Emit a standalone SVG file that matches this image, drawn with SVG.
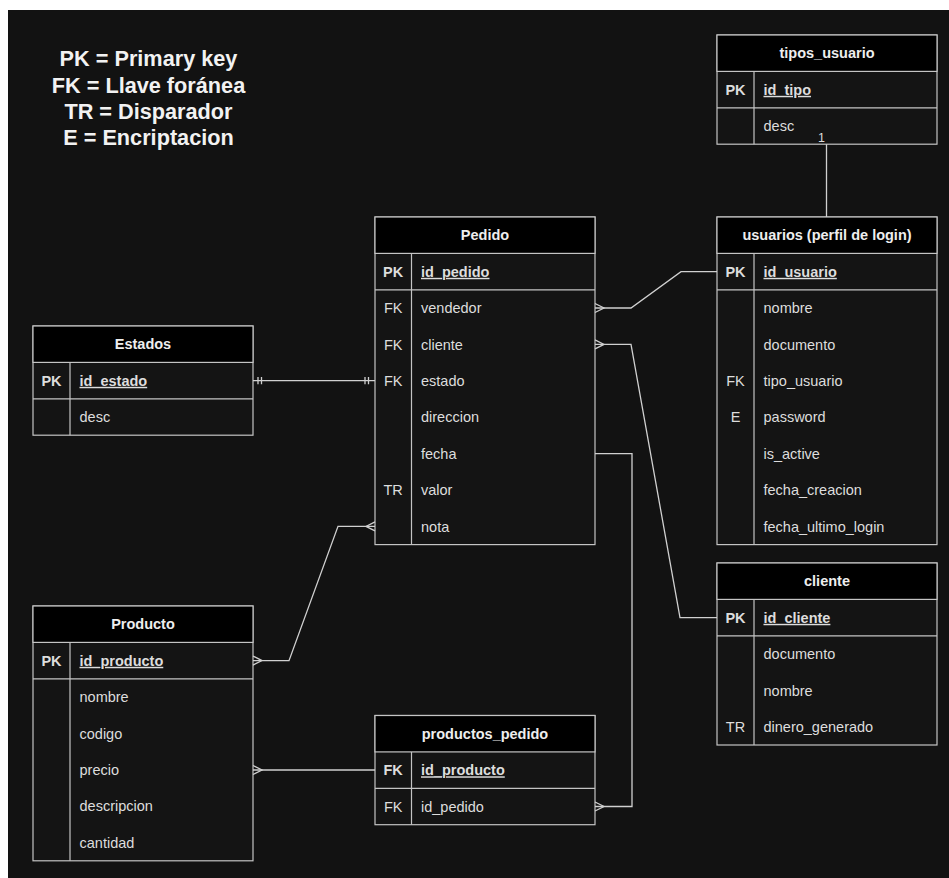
<svg xmlns="http://www.w3.org/2000/svg" width="949" height="878" viewBox="0 0 949 878">
<style>
.bd{fill:#141414;stroke:#c4c4c4;stroke-width:1.2}
.hd{fill:#000;stroke:#c4c4c4;stroke-width:1.2}
.ln{stroke:#c4c4c4;stroke-width:1.2;fill:none}
.ttl{font-family:"Liberation Sans",Arial,sans-serif;font-size:14.5px;font-weight:bold;fill:#eeeeee;text-anchor:middle}
.k{font-family:"Liberation Sans",Arial,sans-serif;font-size:14.5px;fill:#dddddd;text-anchor:middle}
.kb{font-family:"Liberation Sans",Arial,sans-serif;font-size:14.5px;font-weight:bold;fill:#dddddd;text-anchor:middle}
.f{font-family:"Liberation Sans",Arial,sans-serif;font-size:14.5px;fill:#dddddd}
.fb{font-family:"Liberation Sans",Arial,sans-serif;font-size:14.5px;font-weight:bold;fill:#dddddd;text-decoration:underline}
.lg{font-family:"Liberation Sans",Arial,sans-serif;font-size:21.7px;font-weight:bold;fill:#f2f2f2;text-anchor:middle}
.c{stroke:#d0d0d0;stroke-width:1.3;fill:none}
.lbl{font-family:"Liberation Sans",Arial,sans-serif;font-size:12.5px;fill:#dddddd;text-anchor:middle}
</style>
<rect x="0" y="0" width="949" height="878" fill="#ffffff"/>
<rect x="8" y="10" width="941" height="868" fill="#121212"/>

<g id="legend">
<text class="lg" x="148.5" y="66">PK = Primary key</text>
<text class="lg" x="148.5" y="92.5">FK = Llave foránea</text>
<text class="lg" x="148.5" y="119">TR = Disparador</text>
<text class="lg" x="148.5" y="145">E = Encriptacion</text>
</g>

<g id="tipos_usuario">
<rect class="bd" x="717" y="35" width="220" height="109.2"/>
<rect class="hd" x="717" y="35" width="220" height="36.4"/>
<path class="ln" d="M717,107.8 H937 M754,71.4 V144.2"/>
<text class="ttl" x="827" y="58.4">tipos_usuario</text>
<text class="kb" x="735.5" y="94.8">PK</text>
<text class="fb" x="763.5" y="94.8">id_tipo</text>
<text class="f" x="763.5" y="131.2">desc</text>
</g>

<g id="usuarios">
<rect class="bd" x="717" y="217" width="220" height="327.6"/>
<rect class="hd" x="717" y="217" width="220" height="36.4"/>
<path class="ln" d="M717,289.8 H937 M754,253.4 V544.6"/>
<text class="ttl" x="827" y="240.4">usuarios (perfil de login)</text>
<text class="kb" x="735.5" y="276.8">PK</text>
<text class="fb" x="763.5" y="276.8">id_usuario</text>
<text class="f" x="763.5" y="313.2">nombre</text>
<text class="f" x="763.5" y="349.6">documento</text>
<text class="k" x="735.5" y="386">FK</text>
<text class="f" x="763.5" y="386">tipo_usuario</text>
<text class="k" x="735.5" y="422.4">E</text>
<text class="f" x="763.5" y="422.4">password</text>
<text class="f" x="763.5" y="458.8">is_active</text>
<text class="f" x="763.5" y="495.2">fecha_creacion</text>
<text class="f" x="763.5" y="531.6">fecha_ultimo_login</text>
</g>

<g id="pedido">
<rect class="bd" x="375" y="217" width="220" height="327.6"/>
<rect class="hd" x="375" y="217" width="220" height="36.4"/>
<path class="ln" d="M375,289.8 H595 M411.5,253.4 V544.6"/>
<text class="ttl" x="485" y="240.4">Pedido</text>
<text class="kb" x="393.2" y="276.8">PK</text>
<text class="fb" x="421" y="276.8">id_pedido</text>
<text class="k" x="393.2" y="313.2">FK</text>
<text class="f" x="421" y="313.2">vendedor</text>
<text class="k" x="393.2" y="349.6">FK</text>
<text class="f" x="421" y="349.6">cliente</text>
<text class="k" x="393.2" y="386">FK</text>
<text class="f" x="421" y="386">estado</text>
<text class="f" x="421" y="422.4">direccion</text>
<text class="f" x="421" y="458.8">fecha</text>
<text class="k" x="393.2" y="495.2">TR</text>
<text class="f" x="421" y="495.2">valor</text>
<text class="f" x="421" y="531.6">nota</text>
</g>

<g id="estados">
<rect class="bd" x="33" y="326" width="220" height="109.2"/>
<rect class="hd" x="33" y="326" width="220" height="36.4"/>
<path class="ln" d="M33,398.8 H253 M70,362.4 V435.2"/>
<text class="ttl" x="143" y="349.4">Estados</text>
<text class="kb" x="51.5" y="385.8">PK</text>
<text class="fb" x="79.5" y="385.8">id_estado</text>
<text class="f" x="79.5" y="422.2">desc</text>
</g>

<g id="producto">
<rect class="bd" x="33" y="606" width="220" height="254.8"/>
<rect class="hd" x="33" y="606" width="220" height="36.4"/>
<path class="ln" d="M33,678.8 H253 M70,642.4 V860.8"/>
<text class="ttl" x="143" y="629.4">Producto</text>
<text class="kb" x="51.5" y="665.8">PK</text>
<text class="fb" x="79.5" y="665.8">id_producto</text>
<text class="f" x="79.5" y="702.2">nombre</text>
<text class="f" x="79.5" y="738.6">codigo</text>
<text class="f" x="79.5" y="775">precio</text>
<text class="f" x="79.5" y="811.4">descripcion</text>
<text class="f" x="79.5" y="847.8">cantidad</text>
</g>

<g id="productos_pedido">
<rect class="bd" x="375" y="715.5" width="220" height="109.2"/>
<rect class="hd" x="375" y="715.5" width="220" height="36.4"/>
<path class="ln" d="M375,788.3 H595 M411.5,751.9 V824.7"/>
<text class="ttl" x="485" y="738.9">productos_pedido</text>
<text class="kb" x="393.2" y="775.3">FK</text>
<text class="fb" x="421" y="775.3">id_producto</text>
<text class="k" x="393.2" y="811.7">FK</text>
<text class="f" x="421" y="811.7">id_pedido</text>
</g>

<g id="cliente">
<rect class="bd" x="717" y="563" width="220" height="182"/>
<rect class="hd" x="717" y="563" width="220" height="36.4"/>
<path class="ln" d="M717,635.8 H937 M754,599.4 V745"/>
<text class="ttl" x="827" y="586.4">cliente</text>
<text class="kb" x="735.5" y="622.8">PK</text>
<text class="fb" x="763.5" y="622.8">id_cliente</text>
<text class="f" x="763.5" y="659.2">documento</text>
<text class="f" x="763.5" y="695.6">nombre</text>
<text class="k" x="735.5" y="732">TR</text>
<text class="f" x="763.5" y="732">dinero_generado</text>
</g>

<g id="connectors">
<!-- tipos_usuario -> usuarios -->
<path class="c" d="M826.5,144.2 V217"/>
<text class="lbl" x="821.5" y="142">1</text>
<!-- Estados -> Pedido estado -->
<path class="c" d="M253,380.6 H375"/>
<path class="c" d="M258,377 V384.2 M261.5,377 V384.2 M365,377 V384.2 M368.5,377 V384.2"/>
<!-- Pedido vendedor -> usuarios -->
<path class="c" d="M595,308 H631 L681,271.6 H717"/>
<path class="c" d="M595,303.5 L604,308 L595,312.5"/>
<!-- Pedido cliente -> cliente -->
<path class="c" d="M595,344.4 H631 L680,617.6 H717"/>
<path class="c" d="M595,339.9 L604,344.4 L595,348.9"/>
<!-- Pedido fecha -> productos_pedido id_pedido -->
<path class="c" d="M595,453.6 H632 V806.5 H595"/>
<path class="c" d="M595,802 L604,806.5 L595,811"/>
<!-- Pedido nota -> Producto id_producto -->
<path class="c" d="M375,526.4 H338 L289,660.6 H253"/>
<path class="c" d="M375,521.9 L366,526.4 L375,530.9"/>
<path class="c" d="M253,656.1 L262,660.6 L253,665.1"/>
<!-- Producto precio -> productos_pedido id_producto -->
<path class="c" d="M253,770 H375"/>
<path class="c" d="M253,765.5 L262,770 L253,774.5"/>
</g>
</svg>
